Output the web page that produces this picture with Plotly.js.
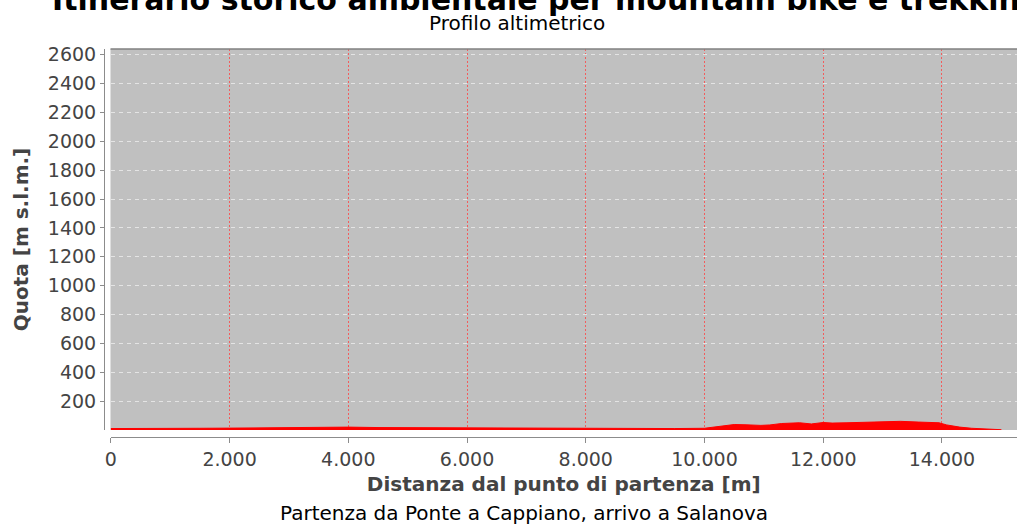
<!DOCTYPE html>
<html>
<head>
<meta charset="utf-8">
<script src="https://cdn.plot.ly/plotly-3.0.1.min.js"></script>
<style>html,body{margin:0;padding:0;background:#fff;}#chart{width:1017px;height:527px;}</style>
</head>
<body>
<div id="chart"></div>
<script>
// Distance from start [m]
const distanza = [0, 500, 1000, 1500, 2000, 2500, 3000, 3500, 4000, 4500, 5000, 5500, 6000, 6500, 7000, 7500, 8000, 8500, 9000, 9500, 10000, 10100, 10300, 10500, 10700, 10950, 11100, 11300, 11600, 11800, 12000, 12150, 12400, 12750, 13000, 13300, 13600, 13950, 14080, 14300, 14500, 14700, 14850, 15000];
// Elevation [m s.l.m.]
const quota = [10, 9, 10, 12, 13, 15, 18, 22, 20, 17, 16, 15, 16, 14, 12, 13, 15, 13, 12, 10, 12, 18, 30, 38, 36, 32, 35, 45, 50, 42, 52, 48, 50, 52, 58, 60, 55, 50, 35, 20, 12, 6, 3, 2];
const xTicks = [0, 2000, 4000, 6000, 8000, 10000, 12000, 14000];
const yTicks = [200, 400, 600, 800, 1000, 1200, 1400, 1600, 1800, 2000, 2200, 2400, 2600];

const titolo = 'Itinerario storico ambientale per mountain bike e trekking';
const sottotitolo = 'Profilo altimetrico';
const nota = 'Partenza da Ponte a Cappiano, arrivo a Salanova';

const FONT = 'DejaVu Sans, sans-serif';

const trace = {
  x: distanza, y: quota, type: 'scatter', mode: 'lines',
  fill: 'tozeroy', fillcolor: '#ff0000',
  line: {color: '#ff0000', width: 1},
  hoverinfo: 'skip', showlegend: false
};

const layout = {
  width: 1017, height: 527,
  margin: {l: 104, r: 0, t: 49, b: 90, pad: 0},
  paper_bgcolor: '#ffffff', plot_bgcolor: '#c0c0c0',
  separators: ',.',
  font: {family: FONT, color: '#444444'},
  xaxis: {
    domain: [6.5 / 913, 1], anchor: 'free', position: 0,
    range: [-6, 15264],
    tickmode: 'array', tickvals: xTicks,
    separatethousands: true, tickformat: ',d',
    showline: true, linecolor: '#8c8c8c', linewidth: 1,
    ticks: 'outside', ticklen: 5, tickcolor: '#8c8c8c',
    tickfont: {family: FONT, size: 19, color: '#444444'},
    showgrid: true, gridcolor: '#f25c5c', griddash: '2px,2px', gridwidth: 1,
    zeroline: false,
    title: {text: '<b>Distanza dal punto di partenza [m]</b>', font: {family: FONT, size: 20, color: '#444444'}, standoff: 8}
  },
  yaxis: {
    domain: [7 / 388, 1], anchor: 'free', position: 0,
    range: [0, 2640],
    tickmode: 'array', tickvals: yTicks,
    showline: true, linecolor: '#8c8c8c', linewidth: 1,
    ticks: 'outside', ticklen: 4, tickcolor: '#8c8c8c',
    tickfont: {family: FONT, size: 19, color: '#444444'},
    showgrid: true, gridcolor: '#e4e4e4', griddash: '4px,4px', gridwidth: 1,
    zeroline: false,
    title: {text: '<b>Quota [m s.l.m.]</b>', font: {family: FONT, size: 20, color: '#444444'}, standoff: 12}
  },
  shapes: [
    {type: 'line', xref: 'x domain', yref: 'y domain', x0: 0, x1: 1, y0: 1, y1: 1, line: {color: '#808080', width: 1.5}, layer: 'above'}
  ],
  annotations: [
    {text: '<b>' + titolo + '</b>', xref: 'paper', yref: 'paper', x: (50 - 104) / 913, y: (437 - 19) / 388, xanchor: 'left', yanchor: 'bottom', showarrow: false, font: {family: FONT, size: 30, color: '#000000'}},
    {text: sottotitolo, xref: 'paper', yref: 'paper', x: (517 - 104) / 913, y: (437 - 23) / 388, xanchor: 'center', yanchor: 'middle', showarrow: false, font: {family: FONT, size: 20, color: '#000000'}},
    {text: nota, xref: 'paper', yref: 'paper', x: (524 - 104) / 913, y: (437 - 513) / 388, xanchor: 'center', yanchor: 'middle', showarrow: false, font: {family: FONT, size: 20, color: '#000000'}}
  ]
};

Plotly.newPlot('chart', [trace], layout, {displayModeBar: false, staticPlot: true});
</script>
</body>
</html>
